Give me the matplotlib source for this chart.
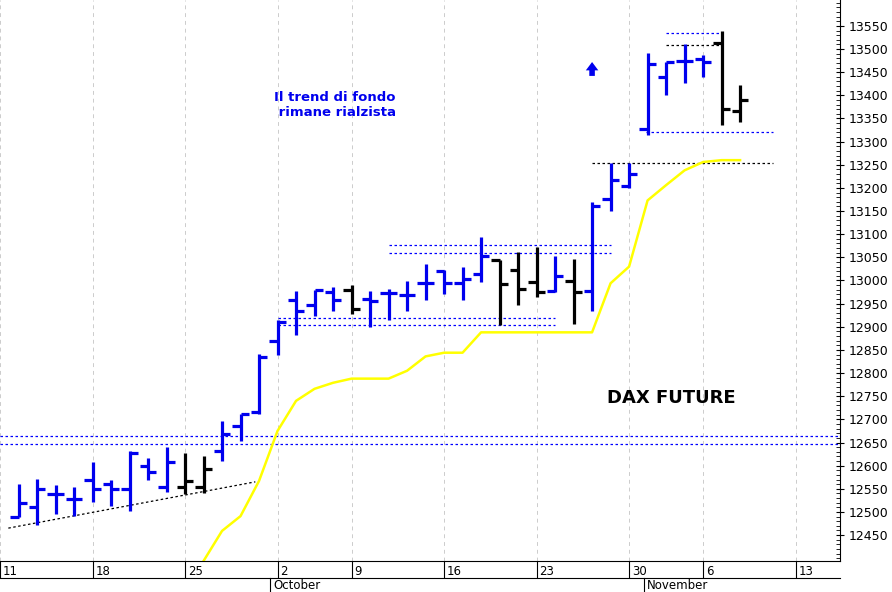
import numpy as np
import matplotlib.pyplot as plt

# trading-day index (Sep 11 = 0), holidays skipped
idx = list(range(1, 41))
opens = [12490, 12511, 12538, 12527, 12569, 12560, 12549, 12600, 12553, 12554,
         12553, 12631, 12686, 12715, 12870, 12957, 12948, 12975, 12980, 12960,
         12973, 12968, 12994, 13020, 12994, 13015, 13045, 13023, 12996, 12978,
         12999, 12977, 13175, 13204, 13328, 13439, 13475, 13478, 13513, 13367]
highs = [12561, 12571, 12558, 12554, 12607, 12569, 12631, 12616, 12640, 12628,
         12621, 12697, 12711, 12842, 12914, 12977, 12980, 12987, 12991, 12977,
         12982, 12999, 13036, 13022, 13029, 13095, 13045, 13061, 13072, 13054,
         13047, 13170, 13253, 13254, 13492, 13473, 13511, 13487, 13538, 13422]
lows = [12488, 12472, 12495, 12491, 12522, 12513, 12502, 12569, 12544, 12538,
        12540, 12610, 12654, 12712, 12840, 12883, 12924, 12934, 12928, 12900,
        12915, 12935, 12957, 12970, 12957, 12996, 12903, 12948, 12965, 12975,
        12905, 12935, 13150, 13200, 13314, 13401, 13427, 13439, 13336, 13343]
closes = [12520, 12550, 12538, 12527, 12549, 12549, 12628, 12587, 12607, 12567,
          12592, 12668, 12711, 12835, 12910, 12935, 12980, 12957, 12939, 12955,
          12973, 12968, 12994, 12994, 13004, 13052, 12993, 12982, 12975, 13009,
          12975, 13160, 13218, 13230, 13468, 13471, 13475, 13473, 13370, 13391]
colors = list("bbbbbbbbbkkbbbbbbbkbbbbbbbkkkbkbbbbbbbkk")

ma_idx = list(range(11, 41))
ma_vals = [12394, 12459, 12491, 12567, 12675, 12740, 12766, 12779, 12788, 12788,
           12788, 12805, 12836, 12844, 12844, 12888, 12888, 12888, 12888, 12888,
           12888, 12888, 12994, 13030, 13173, 13206, 13238, 13256, 13260, 13260]

tick_pos = [0, 5, 10, 15, 19, 24, 29, 34, 38, 43]
tick_lab = ["11", "18", "25", "2", "9", "16", "23", "30", "6", "13"]

fig = plt.figure(figsize=(8.92, 5.92), dpi=100)
ax = fig.add_axes([0, 31/592, 840/892, 561/592])
ax.set_xlim(0.45, 45.4)
ax.set_ylim(12394, 13606)

for t in tick_pos:
    ax.axvline(t, color="#cccccc", ls=(0, (4, 4)), lw=0.7, zorder=0)

# dotted levels
ax.axhline(12665, color="blue", ls=(0, (2, 2)), lw=0.9)
ax.axhline(12647, color="blue", ls=(0, (2, 2)), lw=0.9)
ax.plot([0.45, 13.8], [12465, 12565], color="black", ls=(0, (2, 2)), lw=0.9)
for y, x0, x1 in [(12918, 15, 30), (12903, 15, 30), (13076, 21, 33), (13059, 21, 33),
                  (13320, 34.9, 41.8), (13535, 36, 39)]:
    ax.plot([x0, x1], [y, y], color="blue", ls=(0, (2, 2)), lw=0.9)
ax.plot([32, 41.8], [13253, 13253], color="black", ls=(0, (2, 2)), lw=0.9)
ax.plot([36, 39], [13508, 13508], color="black", ls=(0, (2, 2)), lw=0.9)

ax.plot(ma_idx, ma_vals, color="#ffff00", lw=1.8, zorder=2)

w = 0.45
for i, o, h, l, c, col in zip(idx, opens, highs, lows, closes, colors):
    col = "#0000ee" if col == "b" else "black"
    ax.plot([i, i], [l, h], color=col, lw=2.3, solid_capstyle="butt", zorder=3)
    ax.plot([i - w, i], [o, o], color=col, lw=2.3, solid_capstyle="butt", zorder=3)
    ax.plot([i, i + w], [c, c], color=col, lw=2.3, solid_capstyle="butt", zorder=3)

ax.text(335/840, 0.813, "Il trend di fondo\n rimane rialzista", transform=ax.transAxes,
        color="#0000ee", fontweight="bold", fontsize=9.5, ha="center", va="center",
        multialignment="center")
ax.text(0.799, 0.29, "DAX FUTURE", transform=ax.transAxes,
        fontweight="bold", fontsize=13, ha="center", va="center")
ax.annotate("", xy=(32, 13478), xytext=(32, 13436),
            arrowprops=dict(arrowstyle="simple,head_width=0.9,head_length=0.6,tail_width=0.4",
                            color="#0000ee", lw=0))

ax.yaxis.tick_right()
ax.set_yticks(np.arange(12450, 13551, 50))
ax.set_yticks(np.arange(12400, 13601, 10), minor=True)
ax.tick_params(axis="y", which="major", length=6, labelsize=9, direction="inout")
ax.tick_params(axis="y", which="minor", length=3, direction="in")
ax.set_xticks(tick_pos)
ax.set_xticklabels([])
ax.tick_params(axis="x", length=12, direction="out")
xt = ax.get_xaxis_transform()
for t, lab in zip(tick_pos, tick_lab):
    ax.text(t + 0.15, -0.008, lab, transform=xt, fontsize=8.5, ha="left", va="top",
            clip_on=False)
for s in ["top", "left"]:
    ax.spines[s].set_visible(False)

fig.text(273/892, 0, "October", fontsize=8.5, ha="left", va="bottom")
fig.text(647/892, 0, "November", fontsize=8.5, ha="left", va="bottom")
fig.add_artist(plt.Line2D([0, 840/892], [14/592, 14/592], color="black", lw=0.8))
for px in [270, 644]:
    fig.add_artist(plt.Line2D([px/892, px/892], [0, 14/592], color="black", lw=0.8))

fig.savefig("out.png", dpi=100)
